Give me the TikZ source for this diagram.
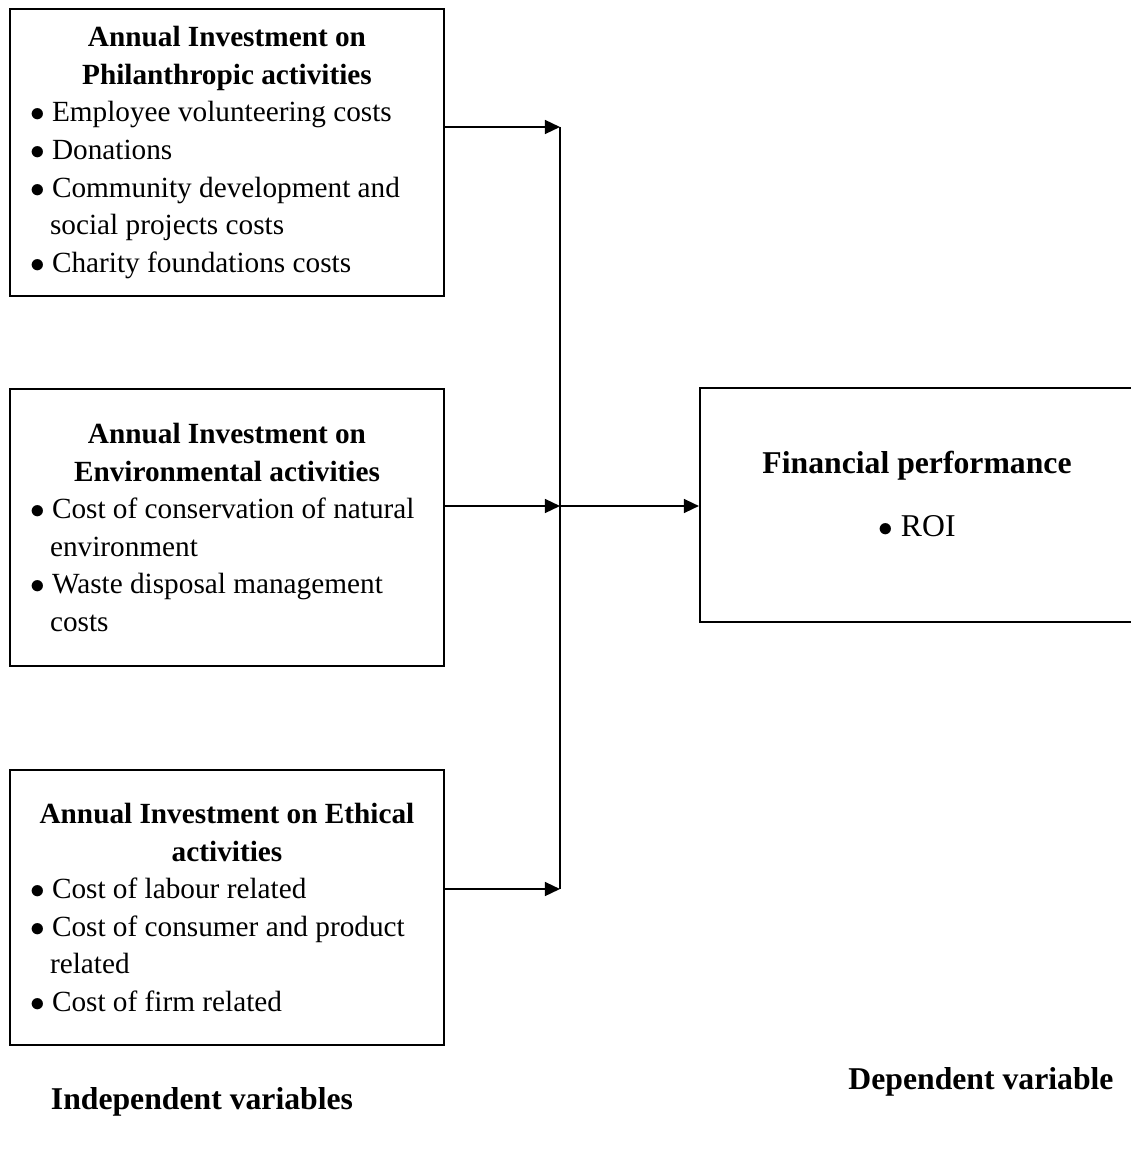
\documentclass[tikz,border=0pt]{standalone}
\usepackage{fontspec}
\setmainfont{Liberation Serif}
\usetikzlibrary{arrows.meta, positioning}
\newcommand{\ttl}[1]{\makebox[161.5pt][c]{\bfseries #1}}
\newcommand{\itm}[1]{\makebox[9pt][l]{$\bullet$}#1}
\newcommand{\cnt}[1]{\hspace*{8.2pt}#1}

\begin{document}
\begin{tikzpicture}[x=0.41pt, y=-0.41pt,
  varbox/.style={rectangle, draw, line width=0.82pt, inner xsep=8.2pt,
                 inner ysep=0pt, minimum width=177.9pt, align=left,
                 font=\fontsize{12}{15.4}\selectfont},
  depbox/.style={rectangle, draw, line width=0.82pt, minimum width=178.8pt,
                 minimum height=95.9pt},
  arrow/.style={-{Triangle[length=6.2pt, width=5.7pt]}, line width=0.82pt},
  bus/.style={line width=0.6pt},
  lbl/.style={font=\fontsize{13}{16}\selectfont\bfseries},
]
  \useasboundingbox (0,0) rectangle (1131,1151);

  % independent variables
  \node[varbox, minimum height=117.7pt] (b1) at (227,152.5)
    {\ttl{Annual Investment on}\\ \ttl{Philanthropic activities}\\
     \itm{Employee volunteering costs}\\
     \itm{Donations}\\
     \itm{Community development and}\\ \cnt{social projects costs}\\
     \itm{Charity foundations costs}};
  \node[varbox, minimum height=113.6pt, below=37.3pt of b1] (b2)
    {\ttl{Annual Investment on}\\ \ttl{Environmental activities}\\
     \itm{Cost of conservation of natural}\\ \cnt{environment}\\
     \itm{Waste disposal management}\\ \cnt{costs}};
  \node[varbox, minimum height=112.75pt, below=41.8pt of b2] (b3)
    {\ttl{Annual Investment on Ethical}\\ \ttl{activities}\\
     \itm{Cost of labour related}\\
     \itm{Cost of consumer and product}\\ \cnt{related}\\
     \itm{Cost of firm related}};

  % dependent variable
  \node[depbox] (fin) at (918,505) {};
  \node[align=center, font=\fontsize{13}{16}\selectfont] (finlbl) at (917,494)
    {\textbf{Financial performance}\\[10.2pt]$\bullet$ ROI};

  \node[lbl] (indep) at (202,1102) {Independent variables};
  \node[lbl] (dep) at (981,1082) {Dependent variable};

  % connectors
  \coordinate (j1) at (560,127);
  \coordinate (j2) at (560,506);
  \coordinate (j3) at (560,889);
  \draw[bus] (j1) -- (j3);
  \draw[arrow] (b1.east |- j1) -- (j1);
  \draw[arrow] (b2.east |- j2) -- (j2);
  \draw[arrow] (b3.east |- j3) -- (j3);
  \draw[arrow] (j2) -- (fin.west |- j2);
\end{tikzpicture}
\end{document}
